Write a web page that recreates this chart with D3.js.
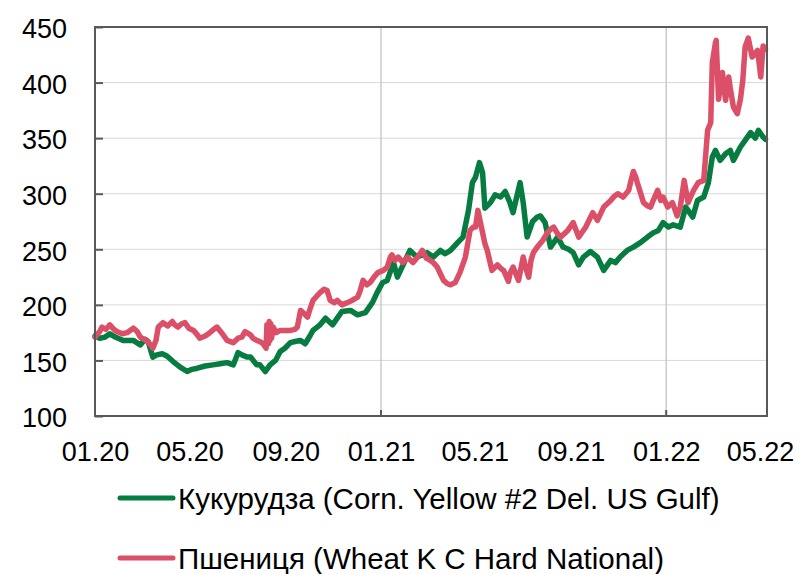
<!DOCTYPE html>
<html>
<head>
	<meta charset="utf-8">
	<title>Кукурудза та пшениця</title>
	<style type="text/css">
body {
  margin: 0;
  background: #fff;
}

text {
  font-family: "Liberation Sans", Arial, sans-serif;
  fill: #000;
}

.grid line {
  stroke: #d9d9d9;
  stroke-width: 1;
}

.vgrid line {
  stroke: #bfbfbf;
  stroke-width: 1.2;
}
	</style>
</head>
<body>
	<svg width="800" height="574"></svg>

	<script src="https://d3js.org/d3.v7.min.js"></script>
	<script type="text/javascript">
		// corn, USD/t
		var cornDates = [
			"2020-01-01","2020-01-07","2020-01-14","2020-01-20","2020-01-27","2020-02-06","2020-02-19","2020-02-28",
			"2020-03-05","2020-03-09","2020-03-15","2020-03-20","2020-03-27","2020-04-02","2020-04-10","2020-04-19",
			"2020-04-28","2020-05-04","2020-05-11","2020-05-21","2020-05-31","2020-06-09","2020-06-18","2020-06-26",
			"2020-07-02","2020-07-07","2020-07-14","2020-07-18","2020-07-26","2020-07-30","2020-08-06","2020-08-12",
			"2020-08-19","2020-08-25","2020-08-31","2020-09-07","2020-09-13","2020-09-20","2020-09-26","2020-10-02",
			"2020-10-06","2020-10-15","2020-10-22","2020-10-31","2020-11-06","2020-11-12","2020-11-23","2020-12-02",
			"2020-12-12","2020-12-21","2020-12-27","2021-01-03","2021-01-09","2021-01-17","2021-01-22","2021-01-26",
			"2021-02-01","2021-02-07","2021-02-16","2021-02-23","2021-03-01","2021-03-09","2021-03-18","2021-03-24",
			"2021-03-31","2021-04-09","2021-04-16","2021-04-23","2021-04-28","2021-05-02","2021-05-07","2021-05-11",
			"2021-05-14","2021-05-21","2021-05-27","2021-06-03","2021-06-09","2021-06-15","2021-06-19","2021-06-24",
			"2021-06-28","2021-07-02","2021-07-07","2021-07-14","2021-07-20","2021-07-24","2021-07-30","2021-08-06",
			"2021-08-15","2021-08-22","2021-08-29","2021-09-04","2021-09-11","2021-09-17","2021-09-26","2021-10-05",
			"2021-10-13","2021-10-22","2021-10-28","2021-11-03","2021-11-12","2021-11-20","2021-11-29","2021-12-08",
			"2021-12-16","2021-12-22","2021-12-28","2022-01-04","2022-01-10","2022-01-19","2022-01-26","2022-02-04",
			"2022-02-10","2022-02-18","2022-02-24","2022-03-01","2022-03-05","2022-03-11","2022-03-18","2022-03-24",
			"2022-03-28","2022-04-06","2022-04-12","2022-04-19","2022-04-25","2022-04-29","2022-05-05","2022-05-08"
		];
		var cornValues = [
			172,170,171,174,171,168,168,164,
			169,167,153,155,156,154,149,144,
			140,142,143,145,146,147,148,146,
			157,155,153,153,146,146,140,146,
			150,158,161,166,167,168,165,172,
			177,182,188,182,188,194,195,191,
			193,202,211,220,222,238,225,231,
			240,249,243,245,247,243,249,246,
			249,256,261,285,310,315,328,319,
			287,292,299,297,302,292,283,298,
			310,292,261,275,279,280,274,252,
			261,252,250,247,236,243,248,243,
			231,240,238,243,249,252,256,261,
			265,267,274,270,272,270,288,279,
			294,297,310,333,339,330,336,339,
			330,342,348,355,350,357,351,349
		];

		// wheat, USD/t
		var wheatDates = [
			"2020-01-01","2020-01-07","2020-01-10","2020-01-15","2020-01-20","2020-01-25","2020-01-29","2020-02-05",
			"2020-02-11","2020-02-19","2020-02-24","2020-02-28","2020-03-04","2020-03-08","2020-03-11","2020-03-15",
			"2020-03-19","2020-03-22","2020-03-28","2020-04-03","2020-04-09","2020-04-12","2020-04-16","2020-04-21",
			"2020-04-25","2020-04-30","2020-05-06","2020-05-11","2020-05-14","2020-05-21","2020-05-27","2020-06-01",
			"2020-06-05","2020-06-12","2020-06-18","2020-06-26","2020-07-02","2020-07-07","2020-07-11","2020-07-18",
			"2020-07-21","2020-07-26","2020-07-30","2020-08-03","2020-08-07","2020-08-08","2020-08-10","2020-08-11",
			"2020-08-12","2020-08-13","2020-08-14","2020-08-16","2020-08-20","2020-08-25","2020-08-31","2020-09-07",
			"2020-09-13","2020-09-16","2020-09-20","2020-09-25","2020-09-29","2020-10-02","2020-10-06","2020-10-11",
			"2020-10-15","2020-10-20","2020-10-24","2020-10-28","2020-11-02","2020-11-06","2020-11-12","2020-11-19",
			"2020-11-25","2020-12-02","2020-12-05","2020-12-09","2020-12-14","2020-12-18","2020-12-23","2020-12-28",
			"2021-01-04","2021-01-09","2021-01-13","2021-01-15","2021-01-19","2021-01-23","2021-01-29","2021-02-04",
			"2021-02-11","2021-02-18","2021-02-23","2021-02-28","2021-03-05","2021-03-09","2021-03-14","2021-03-18",
			"2021-03-22","2021-03-27","2021-03-31","2021-04-06","2021-04-12","2021-04-19","2021-04-25","2021-04-29",
			"2021-05-02","2021-05-05","2021-05-08","2021-05-11","2021-05-14","2021-05-17","2021-05-23","2021-05-30",
			"2021-06-03","2021-06-07","2021-06-13","2021-06-15","2021-06-19","2021-06-26","2021-06-30","2021-07-02",
			"2021-07-05","2021-07-09","2021-07-12","2021-07-15","2021-07-20","2021-07-27","2021-08-02","2021-08-06",
			"2021-08-10","2021-08-15","2021-08-19","2021-08-28","2021-09-04","2021-09-11","2021-09-16","2021-09-20",
			"2021-09-29","2021-10-05","2021-10-13","2021-10-22","2021-10-27","2021-10-31","2021-11-07","2021-11-14",
			"2021-11-17","2021-11-20","2021-11-23","2021-11-25","2021-12-03","2021-12-08","2021-12-12","2021-12-16",
			"2021-12-21","2021-12-25","2021-12-28","2022-01-03","2022-01-09","2022-01-15","2022-01-19","2022-01-24",
			"2022-01-29","2022-02-05","2022-02-11","2022-02-18","2022-02-23","2022-02-27","2022-03-01","2022-03-05",
			"2022-03-06","2022-03-09","2022-03-14","2022-03-18","2022-03-22","2022-03-24","2022-03-28","2022-04-02",
			"2022-04-06","2022-04-09","2022-04-12","2022-04-16","2022-04-21","2022-04-28","2022-05-02","2022-05-05",
			"2022-05-08"
		];
		var wheatValues = [
			171,176,180,178,182,178,176,174,
			175,179,176,171,169,167,165,161,
			168,180,184,181,185,182,180,183,
			184,179,177,173,170,172,175,178,
			180,174,168,166,170,171,176,173,
			170,168,167,165,161,182,165,185,
			168,183,170,180,175,177,177,177,
			178,180,195,192,189,196,204,208,
			211,214,213,204,202,204,200,202,
			204,207,212,222,218,220,225,229,
			231,234,243,245,240,243,238,243,
			238,244,249,242,240,238,234,228,
			222,219,218,220,229,243,267,270,
			270,285,275,265,255,249,231,236,
			233,231,221,228,234,222,236,243,
			234,225,240,247,252,258,265,268,
			270,264,261,267,274,261,266,270,
			283,276,288,294,298,300,297,303,
			312,320,315,310,292,289,288,295,
			303,294,297,288,292,280,288,312,
			292,303,310,312,357,364,418,436,
			438,385,409,384,405,395,378,372,
			385,402,432,440,423,429,405,433,
			430
		];

		var legendLabels = [
			"Кукурудза (Corn. Yellow #2 Del. US Gulf)",
			"Пшениця (Wheat K C Hard National)"
		];
		var colors = ["#077c40", "#dc4f68"];

		var yTicks = [100, 150, 200, 250, 300, 350, 400, 450];

		var parseDate = d3.timeParse("%Y-%m-%d");
		var series = [
			cornDates.map(function (d, i) { return { date: parseDate(d), value: cornValues[i] }; }),
			wheatDates.map(function (d, i) { return { date: parseDate(d), value: wheatValues[i] }; })
		];

		var svg = d3.select("svg");
		var plotLeft = 95, plotRight = 767, plotTop = 27, plotBottom = 416;

		var x = d3.scaleTime()
			.domain([parseDate("2020-01-01"), parseDate("2022-05-10")])
			.range([plotLeft, plotRight]);
		var y = d3.scaleLinear()
			.domain([100, 450])
			.range([plotBottom, plotTop]);

		// horizontal grid
		svg.append("g")
			.attr("class", "grid")
			.selectAll("line")
			.data(yTicks.slice(1, -1))
			.enter().append("line")
				.attr("x1", plotLeft)
				.attr("x2", plotRight)
				.attr("y1", function (d) { return y(d); })
				.attr("y2", function (d) { return y(d); });

		// yearly vertical grid
		var years = [parseDate("2021-01-01"), parseDate("2022-01-01")];
		svg.append("g")
			.attr("class", "vgrid")
			.selectAll("line")
			.data(years)
			.enter().append("line")
				.attr("x1", function (d) { return x(d); })
				.attr("x2", function (d) { return x(d); })
				.attr("y1", plotTop)
				.attr("y2", plotBottom);

		// y axis labels + inner ticks
		var yAxis = d3.axisLeft(y)
			.tickValues(yTicks)
			.tickSize(-8)
			.tickPadding(28);
		var gy = svg.append("g")
			.attr("transform", "translate(" + plotLeft + ",0)")
			.call(yAxis);
		gy.select(".domain").remove();
		gy.selectAll(".tick line").attr("stroke", "#595959").attr("stroke-width", 2);
		gy.selectAll("text")
			.attr("font-size", 27)
			.attr("font-family", "Liberation Sans, Arial, sans-serif")
			.attr("x", -28)
			.attr("dy", "0.4em");

		// x axis labels every 4 months
		var xAxis = d3.axisBottom(x)
			.ticks(d3.timeMonth.every(4))
			.tickFormat(d3.timeFormat("%m.%y"))
			.tickSize(0)
			.tickPadding(26);
		var gx = svg.append("g")
			.attr("transform", "translate(0," + plotBottom + ")")
			.call(xAxis);
		gx.select(".domain").remove();
		gx.selectAll("text")
			.attr("font-size", 27)
			.attr("font-family", "Liberation Sans, Arial, sans-serif");

		// small inner ticks at year marks
		svg.append("g")
			.selectAll("line")
			.data(years)
			.enter().append("line")
				.attr("x1", function (d) { return x(d); })
				.attr("x2", function (d) { return x(d); })
				.attr("y1", plotBottom)
				.attr("y2", plotBottom - 6)
				.attr("stroke", "#595959")
				.attr("stroke-width", 2);

		// lines
		var line = d3.line()
			.x(function (d) { return x(d.date); })
			.y(function (d) { return y(d.value); });

		svg.append("g")
			.selectAll("path")
			.data(series)
			.enter().append("path")
				.attr("d", line)
				.attr("fill", "none")
				.attr("stroke", function (d, i) { return colors[i]; })
				.attr("stroke-width", 5.5)
				.attr("stroke-linejoin", "round")
				.attr("stroke-linecap", "round");

		// frame
		svg.append("rect")
			.attr("x", plotLeft)
			.attr("y", plotTop)
			.attr("width", plotRight - plotLeft)
			.attr("height", plotBottom - plotTop)
			.attr("fill", "none")
			.attr("stroke", "#595959")
			.attr("stroke-width", 2);

		// legend
		var legend = svg.append("g")
			.selectAll("g")
			.data(legendLabels)
			.enter().append("g")
				.attr("transform", function (d, i) { return "translate(120," + (498 + i * 60) + ")"; });

		legend.append("line")
			.attr("x1", 0)
			.attr("x2", 53)
			.attr("stroke", function (d, i) { return colors[i]; })
			.attr("stroke-width", 5)
			.attr("stroke-linecap", "round");

		legend.append("text")
			.attr("x", 58)
			.attr("dy", "0.36em")
			.attr("font-size", 29.5)
			.text(function (d) { return d; });
	</script>
</body>
</html>
